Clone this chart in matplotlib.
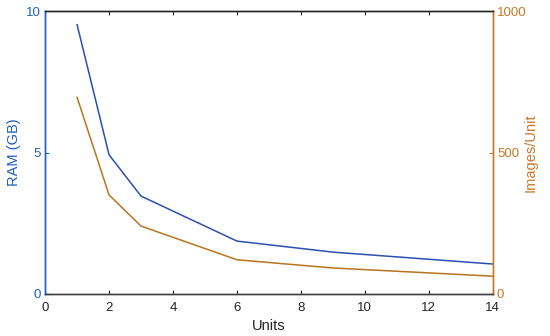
import matplotlib
matplotlib.use('Agg')
from matplotlib import pyplot as plt

plt.rcParams['font.family'] = ['Liberation Sans', 'DejaVu Sans']

units = [1, 2, 3, 6, 9, 14]
ram_gb = [9.52, 4.92, 3.46, 1.87, 1.48, 1.06]
images_per_unit = [695, 350, 240, 121, 92, 63]

blue_axis = '#1F5FBF'
blue_line = '#2850B0'
orange_axis = '#C8782A'
orange_line = '#B87420'

fig = plt.figure(figsize=(5.5, 3.36), dpi=100)
ax = fig.add_axes([0.082, 0.125, 0.814, 0.842])
ax2 = ax.twinx()

ax.plot(units, ram_gb, color=blue_line, lw=1.1)
ax2.plot(units, images_per_unit, color=orange_line, lw=1.1)

ax.set_xlim(0, 14)
ax.set_ylim(0, 10)
ax2.set_ylim(0, 1000)
ax.set_xticks(range(0, 15, 2))
ax.set_yticks([0, 5, 10])
ax2.set_yticks([0, 500, 1000])

ax.set_xlabel('Units', fontsize=10.5, color='#222222', labelpad=3)
ax.set_ylabel('RAM (GB)', fontsize=10.5, color=blue_axis, labelpad=4)
ax2.set_ylabel('Images/Unit', fontsize=10.5, color=orange_axis, labelpad=-2)

ax.tick_params(axis='x', direction='in', length=3, labelsize=9.5, colors='#262626',
               top=True, pad=6)
ax.tick_params(axis='y', direction='in', length=3, labelsize=9.5, colors=blue_axis, pad=3)
ax2.tick_params(axis='y', direction='in', length=3, labelsize=9.5, colors=orange_axis, pad=3)

for a in (ax, ax2):
    a.spines['top'].set_color('#262626')
    a.spines['bottom'].set_color('#404040')
    a.spines['left'].set_color(blue_axis)
    a.spines['right'].set_color(orange_axis)
    for s in a.spines.values():
        s.set_linewidth(1.0)

fig.savefig('out.png', dpi=100)
plt.close()
